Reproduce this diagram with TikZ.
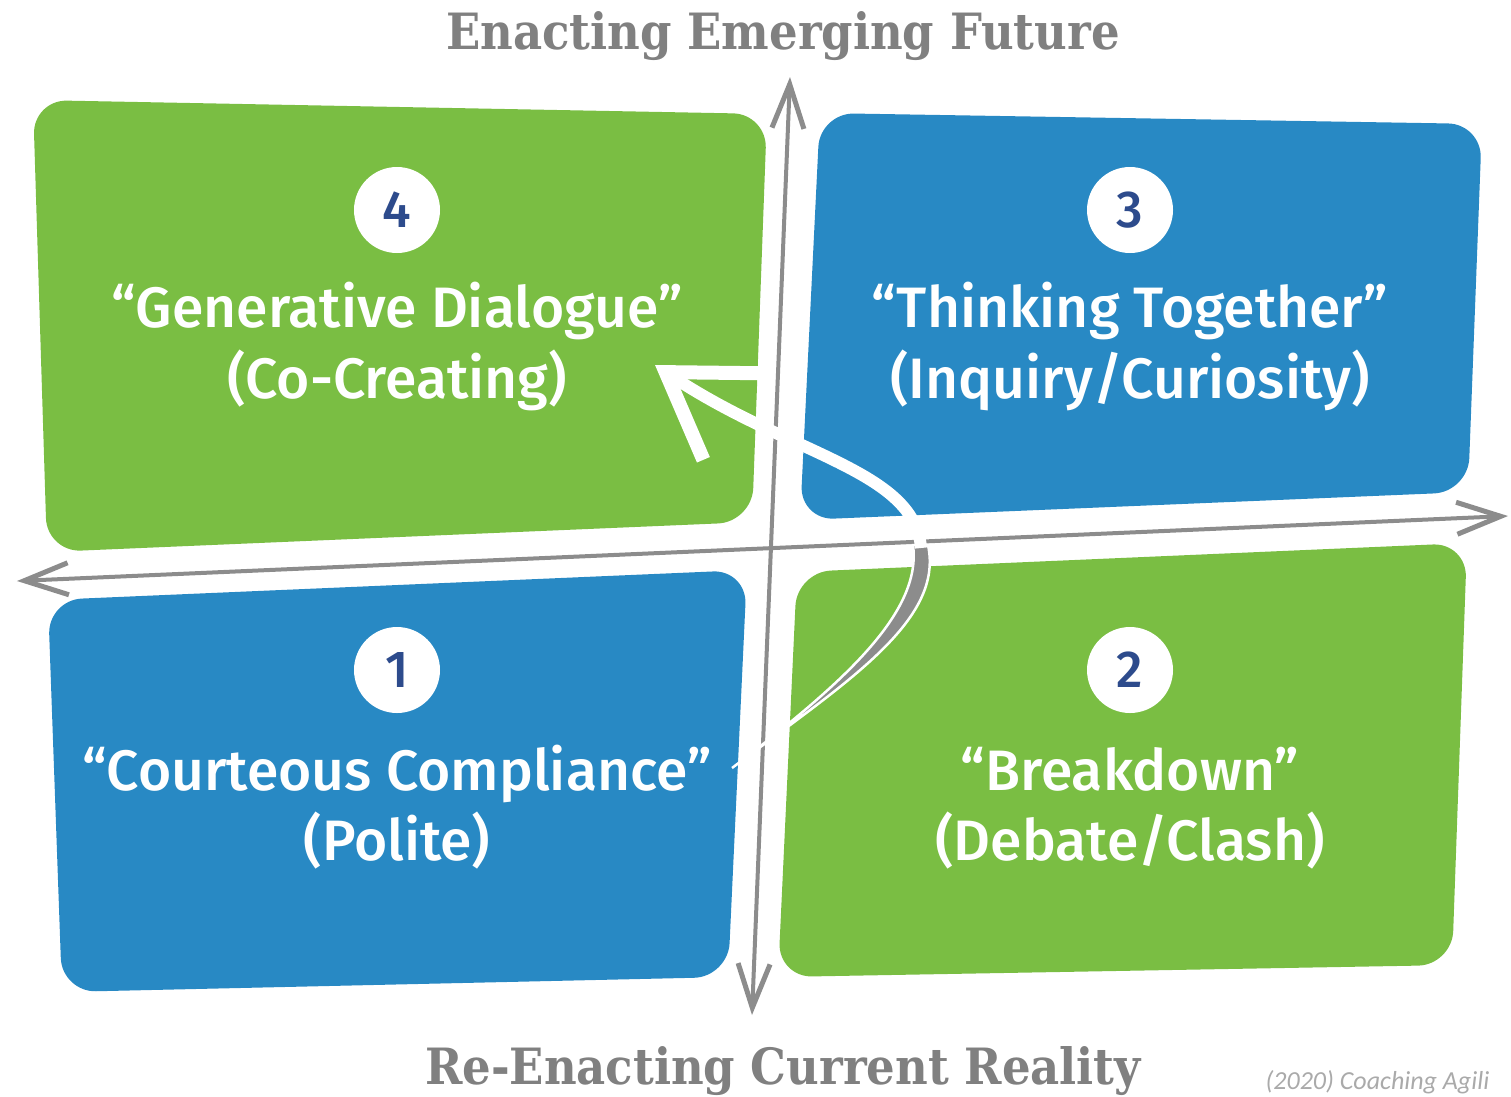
\documentclass[tikz,border=0pt]{standalone}
\usepackage{fontspec}
\setmainfont{Fira Sans}
\newfontfamily\quadfont{Fira Sans Medium}
\newfontfamily\slabfont{DejaVu Serif Condensed}
\newfontfamily\citefont{Carlito}
\usetikzlibrary{arrows.meta}
\definecolor{quadgreen}{RGB}{122,190,67}
\definecolor{quadblue}{RGB}{40,137,196}
\definecolor{axisgray}{RGB}{140,140,140}
\definecolor{titlegray}{RGB}{128,128,128}
\definecolor{numblue}{RGB}{45,75,140}
\definecolor{citegray}{RGB}{170,170,170}
\tikzset{
  quad/.style={rounded corners=34pt},
  quadtext/.style={text=white,anchor=base,font=\quadfont\fontsize{57}{60}\selectfont},
  numcirc/.style={circle,fill=white,minimum size=86pt,inner sep=0pt,text=numblue,font=\quadfont\fontsize{52}{52}\selectfont},
  axisline/.style={axisgray,line width=4pt,{Straight Barb[length=44pt,width=32pt,line width=5pt]}-{Straight Barb[length=44pt,width=32pt,line width=5pt]}},
  axistitle/.style={text=titlegray,anchor=base,font=\slabfont\bfseries\fontsize{50}{54}\selectfont}
}
\begin{document}
\begin{tikzpicture}[x=1pt,y=-1pt]
    \useasboundingbox (0,0) rectangle (1511,1096);

    % quadrants
    \fill[quadgreen,quad] (33,100) -- (767,114) -- (752,522) -- (47,552) -- cycle;
    \fill[quadblue,quad] (820,113) -- (1482,124) -- (1468,492) -- (800,520) -- cycle;
    \fill[quadblue,quad] (48,600) -- (747,570) -- (728,977) -- (62,992) -- cycle;
    \fill[quadgreen,quad] (797,572) -- (1467,543) -- (1452,965) -- (778,977) -- cycle;

    % axes
    \coordinate (top) at (790,77);
    \coordinate (bottom) at (752,1015);
    \coordinate (left) at (17,581);
    \coordinate (right) at (1508,516);
    \draw[axisline] (bottom) -- (top);
    \draw[axisline] (left) -- (right);

    \node[axistitle] (future) at (783,49) {Enacting Emerging Future};
    \node[axistitle] (reality) at (783,1084) {Re-Enacting Current Reality};

    % numbers and labels
    \node[numcirc] (n4) at (397,210) {4};
    \node[quadtext] (gen) at (397,327) {“Generative Dialogue”};
    \node[quadtext] (cocreate) at (397,398) {(Co-Creating)};

    \node[numcirc] (n3) at (1130,210) {3};
    \node[quadtext] (think) at (1130,327) {“Thinking Together”};
    \node[quadtext] (inquiry) at (1130,398) {(Inquiry/Curiosity)};

    \node[numcirc] (n1) at (397,670) {1};
    \node[quadtext] (court) at (397,790) {“Courteous Compliance”};
    \node[quadtext] (polite) at (397,860) {(Polite)};

    \node[numcirc] (n2) at (1130,670) {2};
    \node[quadtext] (break) at (1130,790) {“Breakdown”};
    \node[quadtext] (debate) at (1130,860) {(Debate/Clash)};

    % the loop from 1 to 4
    \coordinate (loopstart) at (732,768);
    \coordinate (loopturn) at (928,545);
    \coordinate (looptip) at (655,365);
    \fill[axisgray,draw=white,line width=2.5pt] (loopstart) .. controls (850,680) and (944,620) .. (loopturn)
        -- (913,545) .. controls (922,612) and (845,682) .. (loopstart) -- cycle;
    \draw[white,line width=12pt,-{Straight Barb[length=80pt,width=104pt,line width=14pt]}]
        (921,548) .. controls (915,470) and (790,455) .. (looptip);

    \node[text=citegray,anchor=base west,font=\citefont\itshape\fontsize{26}{28}\selectfont] (cite) at (1262,1089) {(2020) Coaching Agili};
\end{tikzpicture}
\end{document}
